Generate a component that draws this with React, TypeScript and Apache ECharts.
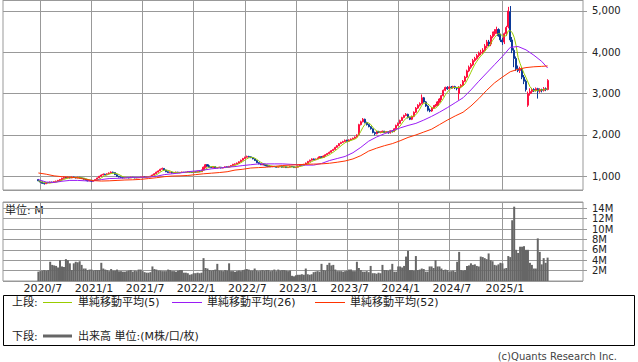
import React, { useEffect, useRef } from 'react';
import * as echarts from 'echarts';

// ---- axis / categories ----
const FIRST_WEEK = '2020-02-24'; // Monday of the first weekly slot on the x axis
const WEEK_COUNT = 296;
const DATA_START = 18; // slot of the first weekly candle (2020-06-29)

const tickLabels = ['2020/7', '2021/1', '2021/7', '2022/1', '2022/7', '2023/1', '2023/7', '2024/1', '2024/7', '2025/1'];

// ---- weekly prices (JPY) ----
const opens = [
  920, 890, 860, 830, 820, 850, 840, 860, 850, 870,
  880, 900, 920, 950, 970, 960, 975, 960, 980, 970,
  960, 975, 960, 950, 930, 910, 890, 900, 880, 900,
  920, 960, 1000, 1030, 1050, 1040, 1060, 1080, 1100, 1090,
  1040, 1000, 980, 970, 960, 970, 965, 960, 975, 970,
  960, 965, 970, 980, 990, 985, 990, 990, 1000, 1030,
  1060, 1100, 1130, 1170, 1190, 1150, 1110, 1090, 1100, 1080,
  1090, 1100, 1085, 1095, 1100, 1090, 1100, 1110, 1100, 1090,
  1110, 1100, 1120, 1110, 1150, 1220, 1280, 1250, 1220, 1210,
  1230, 1200, 1210, 1220, 1200, 1210, 1230, 1220, 1240, 1260,
  1290, 1300, 1320, 1350, 1390, 1430, 1460, 1480, 1470, 1450,
  1420, 1380, 1330, 1300, 1280, 1290, 1270, 1250, 1240, 1230,
  1240, 1230, 1220, 1230, 1240, 1220, 1230, 1210, 1220, 1240,
  1230, 1210, 1220, 1250, 1280, 1270, 1290, 1320, 1360, 1390,
  1420, 1400, 1420, 1440, 1470, 1460, 1490, 1520, 1550, 1580,
  1620, 1650, 1700, 1740, 1790, 1820, 1840, 1870, 1850, 1880,
  1900, 1920, 1950, 2010, 2250, 2320, 2380, 2300, 2250, 2200,
  2150, 2060, 2030, 2080, 2060, 2070, 2090, 2060, 2080, 2050,
  2100, 2080, 2150, 2230, 2280, 2350, 2420, 2470, 2500, 2420,
  2380, 2450, 2550, 2650, 2720, 2760, 2900, 2800, 2700, 2600,
  2580, 2650, 2700, 2720, 2800, 2870, 2950, 3080, 3150, 3120,
  3160, 3150, 3170, 3140, 3000, 3160, 3200, 3300, 3400, 3550,
  3640, 3700, 3800, 3850, 3920, 3980, 4000, 4050, 4150, 4250,
  4200, 4380, 4450, 4500, 4550, 4400, 4300, 4250, 4450, 4620,
  4980, 4300, 4050, 3850, 3600, 3560, 3600, 3400, 3300, 2720,
  3000, 3050, 3100, 3080, 3120, 3060, 3100, 3080, 3120, 3100,
];

const closes = [
  890, 860, 830, 820, 850, 840, 860, 850, 870, 880,
  900, 920, 950, 970, 960, 975, 960, 980, 970, 960,
  975, 960, 950, 930, 910, 890, 900, 880, 900, 920,
  960, 1000, 1030, 1050, 1040, 1060, 1080, 1100, 1090, 1040,
  1000, 980, 970, 960, 970, 965, 960, 975, 970, 960,
  965, 970, 980, 990, 985, 990, 990, 1000, 1030, 1060,
  1100, 1130, 1170, 1190, 1150, 1110, 1090, 1100, 1080, 1090,
  1100, 1085, 1095, 1100, 1090, 1100, 1110, 1100, 1090, 1110,
  1100, 1120, 1110, 1150, 1220, 1280, 1250, 1220, 1210, 1230,
  1200, 1210, 1220, 1200, 1210, 1230, 1220, 1240, 1260, 1290,
  1300, 1320, 1350, 1390, 1430, 1460, 1480, 1470, 1450, 1420,
  1380, 1330, 1300, 1280, 1290, 1270, 1250, 1240, 1230, 1240,
  1230, 1220, 1230, 1240, 1220, 1230, 1210, 1220, 1240, 1230,
  1210, 1220, 1250, 1280, 1270, 1290, 1320, 1360, 1390, 1420,
  1400, 1420, 1440, 1470, 1460, 1490, 1520, 1550, 1580, 1620,
  1650, 1700, 1740, 1790, 1820, 1840, 1870, 1850, 1880, 1900,
  1920, 1950, 2000, 2250, 2320, 2380, 2300, 2250, 2200, 2150,
  2060, 2030, 2080, 2060, 2070, 2090, 2060, 2080, 2050, 2100,
  2080, 2150, 2230, 2280, 2350, 2420, 2470, 2500, 2420, 2380,
  2450, 2550, 2650, 2720, 2760, 2900, 2800, 2700, 2600, 2580,
  2650, 2700, 2720, 2800, 2870, 2950, 3080, 3150, 3120, 3160,
  3150, 3170, 3140, 3130, 3160, 3200, 3300, 3400, 3550, 3640,
  3700, 3800, 3850, 3920, 3980, 4000, 4050, 4150, 4250, 4200,
  4380, 4450, 4500, 4550, 4400, 4300, 4250, 4450, 4600, 5000,
  4300, 4050, 3850, 3600, 3560, 3600, 3400, 3300, 3100, 3000,
  3050, 3100, 3080, 3120, 3060, 3100, 3080, 3120, 3100, 3320,
];

const highs = [
  935, 900, 875, 845, 860, 862, 872, 870, 882, 895,
  912, 935, 965, 990, 985, 990, 985, 995, 990, 980,
  988, 985, 972, 960, 940, 918, 912, 910, 908, 932,
  970, 1012, 1045, 1068, 1062, 1072, 1095, 1118, 1112, 1098,
  1048, 1010, 992, 980, 982, 980, 975, 988, 985, 978,
  975, 980, 990, 1002, 998, 1000, 1002, 1012, 1042, 1075,
  1115, 1145, 1185, 1210, 1198, 1160, 1122, 1112, 1108, 1100,
  1112, 1108, 1105, 1112, 1108, 1110, 1122, 1118, 1108, 1120,
  1118, 1130, 1128, 1160, 1235, 1295, 1290, 1260, 1232, 1245,
  1238, 1218, 1232, 1228, 1220, 1240, 1238, 1250, 1272, 1300,
  1312, 1332, 1362, 1402, 1445, 1475, 1500, 1495, 1482, 1462,
  1428, 1390, 1342, 1310, 1300, 1298, 1280, 1260, 1250, 1250,
  1250, 1240, 1240, 1252, 1248, 1240, 1238, 1228, 1250, 1248,
  1238, 1230, 1262, 1292, 1290, 1300, 1332, 1372, 1402, 1435,
  1432, 1430, 1452, 1485, 1485, 1502, 1535, 1565, 1598, 1635,
  1665, 1715, 1755, 1805, 1835, 1860, 1890, 1885, 1895, 1915,
  1935, 1965, 2015, 2270, 2345, 2410, 2395, 2320, 2270, 2215,
  2160, 2080, 2095, 2100, 2085, 2105, 2100, 2095, 2090, 2115,
  2115, 2165, 2250, 2300, 2370, 2440, 2490, 2530, 2515, 2440,
  2470, 2570, 2675, 2745, 2790, 2980, 2920, 2820, 2720, 2640,
  2670, 2720, 2750, 2820, 2890, 2970, 3100, 3170, 3180, 3180,
  3185, 3190, 3190, 3160, 3180, 3230, 3330, 3430, 3580, 3680,
  3740, 3840, 3890, 3960, 4020, 4060, 4100, 4200, 4300, 4300,
  4420, 4500, 4560, 4620, 4580, 4450, 4350, 4480, 4640, 5100,
  5120, 4370, 4100, 3900, 3680, 3650, 3640, 3450, 3340, 3050,
  3130, 3140, 3130, 3150, 3140, 3130, 3120, 3160, 3150, 3350,
];

const lows = [
  880, 850, 815, 800, 812, 828, 832, 840, 842, 862,
  868, 888, 910, 940, 948, 950, 948, 952, 958, 948,
  950, 950, 938, 920, 898, 878, 880, 868, 872, 892,
  912, 952, 990, 1020, 1028, 1030, 1050, 1068, 1075, 1030,
  990, 972, 958, 950, 952, 955, 950, 955, 962, 950,
  952, 955, 962, 972, 975, 975, 980, 982, 995, 1022,
  1052, 1090, 1120, 1160, 1140, 1100, 1080, 1080, 1070, 1072,
  1080, 1078, 1075, 1085, 1080, 1080, 1090, 1090, 1080, 1082,
  1090, 1092, 1100, 1105, 1145, 1210, 1240, 1210, 1198, 1200,
  1190, 1192, 1200, 1190, 1192, 1202, 1210, 1212, 1232, 1252,
  1278, 1290, 1310, 1340, 1380, 1420, 1450, 1455, 1440, 1410,
  1370, 1320, 1290, 1270, 1270, 1260, 1240, 1230, 1222, 1220,
  1222, 1210, 1210, 1220, 1210, 1212, 1200, 1200, 1212, 1222,
  1200, 1200, 1212, 1240, 1260, 1262, 1282, 1310, 1350, 1380,
  1390, 1390, 1410, 1430, 1450, 1452, 1480, 1510, 1540, 1570,
  1610, 1640, 1690, 1730, 1780, 1810, 1830, 1835, 1840, 1870,
  1890, 1910, 1940, 2000, 2230, 2305, 2280, 2230, 2185, 2130,
  2040, 1990, 2015, 2045, 2040, 2055, 2045, 2045, 2030, 2035,
  2060, 2070, 2140, 2215, 2270, 2340, 2405, 2455, 2400, 2360,
  2360, 2430, 2530, 2630, 2690, 2740, 2780, 2680, 2570, 2550,
  2560, 2630, 2680, 2700, 2780, 2850, 2930, 3060, 3090, 3100,
  3120, 3120, 3110, 3080, 2850, 3130, 3180, 3280, 3380, 3520,
  3600, 3670, 3770, 3820, 3880, 3930, 3960, 4020, 4100, 4150,
  4150, 4340, 4400, 4450, 4380, 4250, 4180, 4200, 4400, 4580,
  4250, 3980, 3640, 3550, 3520, 3500, 3350, 3230, 3050, 2680,
  2950, 3000, 3040, 3050, 2880, 3020, 3030, 3050, 3060, 3080,
];

// ---- weekly volume (millions of shares) ----
const volumes = [
  1.8, 1.9, 2.0, 2.1, 2.0, 2.1, 3.7, 3.1, 3.0, 2.9,
  2.6, 4.0, 2.8, 2.7, 4.2, 4.0, 3.4, 2.1, 3.4, 3.7,
  3.6, 3.8, 3.1, 2.4, 2.4, 2.1, 2.2, 2.2, 2.0, 2.1,
  2.1, 2.1, 3.5, 2.4, 2.2, 2.1, 1.9, 2.3, 2.0, 2.0,
  2.2, 1.9, 1.9, 1.8, 1.8, 1.9, 2.0, 2.1, 1.8, 2.0,
  1.9, 2.2, 2.2, 1.9, 1.7, 1.6, 1.6, 1.7, 2.8, 2.3,
  2.2, 2.0, 2.0, 1.9, 1.9, 1.9, 2.2, 2.1, 1.9, 1.9,
  1.8, 2.0, 2.1, 2.1, 1.6, 1.6, 1.5, 1.2, 1.3, 1.5,
  1.5, 1.6, 1.5, 1.6, 4.4, 2.5, 2.4, 2.1, 2.0, 2.1,
  2.2, 3.3, 2.0, 2.0, 1.9, 2.1, 2.0, 3.4, 1.9, 1.9,
  1.8, 1.9, 2.0, 1.9, 2.1, 2.2, 2.3, 2.2, 2.0, 2.0,
  2.4, 2.0, 1.9, 2.0, 2.1, 2.0, 2.1, 2.1, 1.9, 2.0,
  2.2, 1.9, 2.2, 2.0, 2.1, 2.1, 2.0, 1.9, 2.0, 1.0,
  0.9, 1.1, 1.2, 1.2, 1.3, 1.2, 2.4, 1.3, 1.2, 1.3,
  1.7, 1.8, 1.9, 1.8, 3.3, 2.1, 2.0, 3.1, 3.5, 3.0,
  3.1, 2.2, 1.9, 1.9, 1.9, 1.8, 1.9, 2.0, 2.2, 2.2,
  1.9, 1.9, 3.7, 2.5, 2.1, 1.8, 1.8, 1.9, 1.7, 2.9,
  1.5, 1.5, 1.4, 1.6, 1.5, 3.1, 2.1, 2.1, 2.0, 2.2,
  3.3, 1.8, 1.8, 2.8, 2.8, 2.6, 2.9, 4.7, 5.8, 2.1,
  2.1, 2.0, 4.8, 2.1, 2.2, 2.4, 2.3, 1.8, 1.8, 2.8,
  2.8, 2.5, 4.0, 2.8, 2.8, 2.4, 2.1, 2.2, 2.1, 1.8,
  1.9, 2.0, 1.8, 3.7, 5.6, 2.1, 2.0, 2.1, 2.9, 3.0,
  3.4, 3.1, 3.2, 2.9, 2.8, 4.7, 4.6, 4.4, 4.2, 5.3,
  4.0, 3.8, 3.1, 3.0, 3.2, 3.5, 3.4, 2.4, 2.5, 4.8,
  4.6, 11.7, 14.3, 6.0, 5.4, 6.6, 6.6, 6.7, 6.0, 6.0,
  3.5, 3.1, 2.4, 2.4, 8.2, 5.6, 3.2, 4.4, 3.5, 4.5,
];

// ---- 26 / 52 week simple moving averages, read every 4 weeks ----
const maWeeks = [
  18, 22, 26, 30, 34, 38, 42, 46, 50, 54, 58, 62, 66, 70, 74, 78, 82, 86, 90, 94,
  98, 102, 106, 110, 114, 118, 122, 126, 130, 134, 138, 142, 146, 150, 154, 158, 162, 166, 170, 174,
  178, 182, 186, 190, 194, 198, 202, 206, 210, 214, 218, 222, 226, 230, 234, 238, 242, 246, 250, 254,
  258, 262, 266, 270, 274, 277,
];
const ma26 = [
  920, 860, 850, 880, 900, 900, 890, 890, 920, 945, 950, 960, 975, 975, 980, 1000, 1040, 1060, 1080, 1110,
  1130, 1150, 1180, 1200, 1220, 1235, 1260, 1280, 1300, 1300, 1300, 1300, 1290, 1280, 1270, 1270, 1310, 1380, 1430, 1480,
  1570, 1700, 1850, 1950, 2030, 2100, 2170, 2230, 2280, 2360, 2450, 2550, 2660, 2780, 2900, 3090, 3300, 3500, 3700, 3900,
  4120, 4140, 4060, 3930, 3780, 3620,
];
const ma52 = [
  1080, 1050, 1010, 990, 980, 960, 925, 895, 885, 890, 900, 910, 915, 925, 945, 965, 990, 1005, 1010, 1020,
  1040, 1060, 1075, 1090, 1110, 1150, 1170, 1200, 1210, 1220, 1240, 1260, 1270, 1280, 1290, 1295, 1300, 1315, 1340, 1370,
  1420, 1500, 1610, 1680, 1740, 1790, 1860, 1940, 2000, 2070, 2140, 2250, 2360, 2460, 2550, 2700, 2880, 3080, 3260, 3400,
  3530, 3590, 3630, 3650, 3660, 3670,
];

const maLegend = ['単純移動平均(5)', '単純移動平均(26)', '単純移動平均(52)'];

const COLORS = {
  up: '#ff1040',
  down: '#0b3a98',
  ma5: '#99cc00',
  ma26: '#9a1cf5',
  ma52: '#ff3300',
  volume: '#666666',
  grid: '#999999',
  text: '#222222',
};
const FONT = "'DejaVu Sans', 'Noto Sans CJK JP', sans-serif";

function weekDate(i: number) {
  const t = Date.parse(FIRST_WEEK + 'T00:00:00Z') + i * 7 * 86400000;
  return new Date(t);
}
function monthLabel(i: number) {
  const d = weekDate(i);
  return `${d.getUTCFullYear()}/${d.getUTCMonth() + 1}`;
}

export default function App() {
  const ref = useRef<HTMLDivElement>(null);

  useEffect(() => {
    if (!ref.current) return;
    const chart = echarts.init(ref.current, null, { renderer: 'svg' });

    const categories = Array.from({ length: WEEK_COUNT }, (_, i) => {
      const d = weekDate(i);
      return `${d.getUTCFullYear()}/${d.getUTCMonth() + 1}/${d.getUTCDate()}`;
    });
    const isTick = (i: number) =>
      tickLabels.includes(monthLabel(i)) && (i === 0 || monthLabel(i - 1) !== monthLabel(i));

    const candleData: any[] = [];
    const volData: any[] = [];
    const ma5Data: any[] = [];
    for (let i = 0; i < WEEK_COUNT; i++) {
      const k = i - DATA_START;
      if (k >= 0 && k < closes.length) {
        candleData.push([opens[k], closes[k], lows[k], highs[k]]);
        volData.push(volumes[k]);
        const from = Math.max(0, k - 4);
        const win = closes.slice(from, k + 1);
        ma5Data.push(win.reduce((a, b) => a + b, 0) / win.length);
      } else {
        candleData.push('-');
        volData.push('-');
        ma5Data.push('-');
      }
    }

    const splitLine = { show: true, interval: isTick, lineStyle: { color: COLORS.grid, width: 1 } };

    const option: any = {
      animation: false,
      backgroundColor: '#ffffff',
      grid: [
        { left: 3, right: 55, top: 0, height: 190, show: true, borderColor: COLORS.grid, borderWidth: 1 },
        { left: 3, right: 55, top: 202, height: 79, show: true, borderColor: COLORS.grid, borderWidth: 1 },
      ],
      xAxis: [
        {
          type: 'category', gridIndex: 0, data: categories, boundaryGap: false,
          axisLine: { show: false }, axisTick: { show: false }, axisLabel: { show: false },
          splitLine,
        },
        {
          type: 'category', gridIndex: 1, data: categories, boundaryGap: false,
          axisLine: { show: false }, axisTick: { show: false },
          axisLabel: {
            show: true, interval: isTick,
            formatter: (v: string) => v.split('/').slice(0, 2).join('/'),
            fontSize: 11, fontFamily: FONT, color: COLORS.text, margin: 2, padding: [0, 0, 0, 5],
          },
          splitLine,
        },
      ],
      yAxis: [
        {
          type: 'value', gridIndex: 0, position: 'right', min: 668, max: 5266, splitNumber: 5,
          axisLine: { show: false },
          axisTick: { show: true, length: 4, lineStyle: { color: COLORS.grid } },
          axisLabel: {
            margin: 9, fontSize: 10, fontFamily: FONT, color: COLORS.text,
            showMinLabel: false, showMaxLabel: false,
            formatter: (v: number) => v.toLocaleString('en-US'),
          },
          splitLine: { show: true, lineStyle: { color: COLORS.grid, width: 1 } },
        },
        {
          type: 'value', gridIndex: 1, position: 'right', min: 0, max: 15.2, interval: 2,
          axisLine: { show: false },
          axisTick: { show: true, length: 4, lineStyle: { color: COLORS.grid } },
          axisLabel: {
            margin: 9, fontSize: 10, fontFamily: FONT, color: COLORS.text,
            showMinLabel: false, showMaxLabel: false,
            formatter: (v: number) => (v === 0 ? '' : `${v}M`),
          },
          splitLine: { show: true, lineStyle: { color: COLORS.grid, width: 1 } },
        },
      ],
      series: [
        {
          type: 'candlestick', xAxisIndex: 0, yAxisIndex: 0, data: candleData, barWidth: 1.6,
          itemStyle: {
            color: COLORS.up, color0: COLORS.down,
            borderColor: COLORS.up, borderColor0: COLORS.down, borderWidth: 1,
          },
        },
        {
          type: 'line', xAxisIndex: 0, yAxisIndex: 0, data: ma5Data, symbol: 'none',
          lineStyle: { color: COLORS.ma5, width: 1 },
        },
        {
          type: 'line', xAxisIndex: 0, yAxisIndex: 0, symbol: 'none',
          data: maWeeks.map((w, k) => [w, ma26[k]]),
          lineStyle: { color: COLORS.ma26, width: 1 },
        },
        {
          type: 'line', xAxisIndex: 0, yAxisIndex: 0, symbol: 'none',
          data: maWeeks.map((w, k) => [w, ma52[k]]),
          lineStyle: { color: COLORS.ma52, width: 1 },
        },
        {
          type: 'bar', xAxisIndex: 1, yAxisIndex: 1, data: volData, barWidth: 2,
          itemStyle: { color: COLORS.volume },
        },
      ],
      graphic: [
        { type: 'text', x: 5, y: 210, style: { text: '単位: M', fontSize: 11, fontFamily: FONT, fill: COLORS.text, verticalAlign: 'middle' } },
        { type: 'rect', shape: { x: 3.5, y: 295.5, width: 631, height: 50 }, style: { fill: 'none', stroke: '#000', lineWidth: 1 } },
        { type: 'text', x: 12, y: 302.5, style: { text: '上段:', fontSize: 11, fontFamily: FONT, fill: COLORS.text, verticalAlign: 'middle' } },
        { type: 'line', shape: { x1: 43, y1: 302.5, x2: 72, y2: 302.5 }, style: { stroke: COLORS.ma5, lineWidth: 1 } },
        { type: 'text', x: 78, y: 302.5, style: { text: maLegend[0], fontSize: 11, fontFamily: FONT, fill: COLORS.text, verticalAlign: 'middle' } },
        { type: 'line', shape: { x1: 172, y1: 302.5, x2: 202, y2: 302.5 }, style: { stroke: COLORS.ma26, lineWidth: 1 } },
        { type: 'text', x: 207, y: 302.5, style: { text: maLegend[1], fontSize: 11, fontFamily: FONT, fill: COLORS.text, verticalAlign: 'middle' } },
        { type: 'line', shape: { x1: 315, y1: 302.5, x2: 345, y2: 302.5 }, style: { stroke: COLORS.ma52, lineWidth: 1 } },
        { type: 'text', x: 350, y: 302.5, style: { text: maLegend[2], fontSize: 11, fontFamily: FONT, fill: COLORS.text, verticalAlign: 'middle' } },
        { type: 'text', x: 12, y: 336, style: { text: '下段:', fontSize: 11, fontFamily: FONT, fill: COLORS.text, verticalAlign: 'middle' } },
        { type: 'line', shape: { x1: 43, y1: 336, x2: 72, y2: 336 }, style: { stroke: COLORS.volume, lineWidth: 3 } },
        { type: 'text', x: 78, y: 336, style: { text: '出来高 単位:(M株/口/枚)', fontSize: 11, fontFamily: FONT, fill: COLORS.text, verticalAlign: 'middle' } },
        { type: 'text', x: 617, y: 356, style: { text: '(c)Quants Research Inc.', fontSize: 10, fontFamily: FONT, fill: '#444', align: 'right', verticalAlign: 'middle' } },
      ],
    };

    chart.setOption(option);
    return () => chart.dispose();
  }, []);

  return (
    <div
      ref={ref}
      style={{ position: 'absolute', left: 0, top: 0, width: 638, height: 362, background: '#fff' }}
    />
  );
}
